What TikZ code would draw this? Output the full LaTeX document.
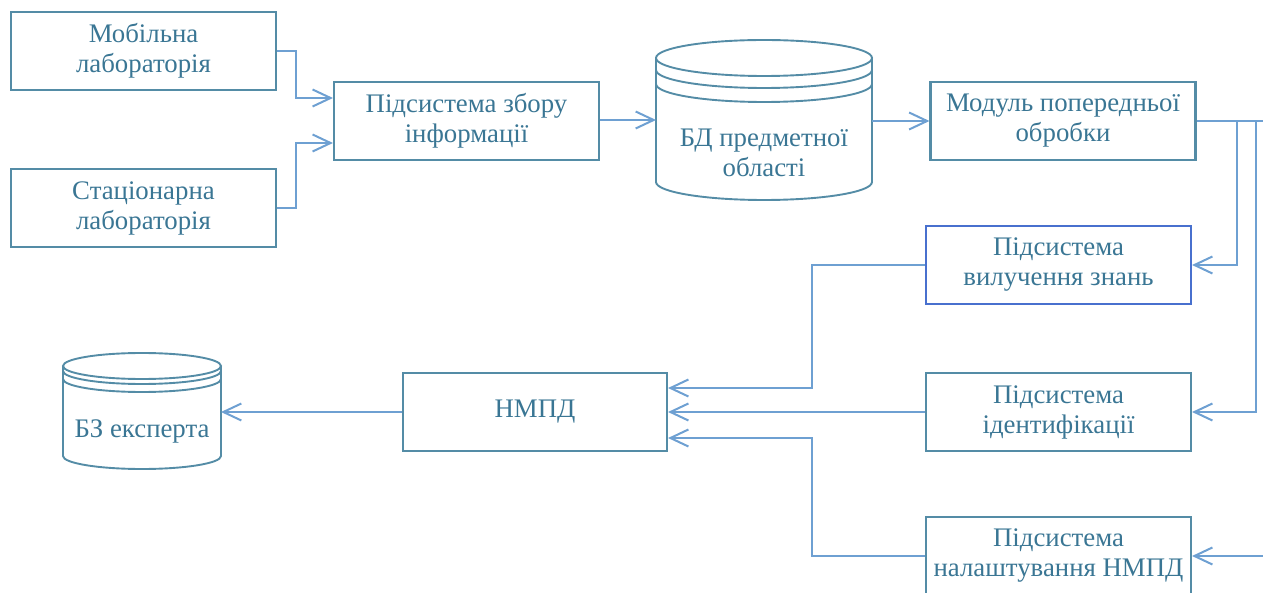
\documentclass[tikz,border=0pt]{standalone}
\usepackage{fontspec}
\setmainfont{Liberation Serif}
\usetikzlibrary{arrows.meta,calc}
\definecolor{txtc}{RGB}{58,118,148}
\definecolor{boxc}{RGB}{84,140,166}
\definecolor{boxb}{RGB}{72,112,206}
\definecolor{linec}{RGB}{110,160,210}
\newcommand\lblfont{\fontsize{26.8}{30}\selectfont}
\begin{document}
\begin{tikzpicture}[x=1pt,y=-1pt,
  box/.style={draw=boxc, line width=2.1pt, minimum width=265pt, minimum height=78pt,
    inner sep=0pt, align=center, text=txtc, font=\lblfont},
  lbl/.style={inner sep=0pt, align=center, text=txtc, font=\lblfont},
  area/.style={inner sep=0pt, outer sep=0pt},
  cyl/.style={draw=boxc, line width=1.9pt},
  link/.style={draw=linec, line width=2pt},
  arr/.style={link, -{Straight Barb[length=18pt,width=17pt]}}]
\useasboundingbox (0,0) rectangle (1263,593);
\clip (0,0) rectangle (1263,593);

% process boxes
\node[box] (mob) at (143.5,51) {Мобільна\\лабораторія};
\node[box] (sta) at (143.5,208) {Стаціонарна\\лабораторія};
\node[box] (zb) at (466.5,121) {Підсистема збору\\інформації};
\node[box] (mod) at (1063,121) {Модуль попередньої\\обробки};
\node[box, draw=boxb] (vil) at (1058.5,265) {Підсистема\\вилучення знань};
\node[box] (id) at (1058.5,412) {Підсистема\\ідентифікації};
\node[box] (nal) at (1058.5,556) {Підсистема\\налаштування НМПД};
\node[box, minimum width=264pt] (nmpd) at (535,412) {НМПД};

% database of the subject area
\node[area, minimum width=216pt, minimum height=160pt] (bd) at (764,120) {};
\draw[cyl] (764,58) ellipse[x radius=108, y radius=18];
\draw[cyl] (656,70) arc[start angle=180, end angle=0, x radius=108, y radius=18];
\draw[cyl] (656,84) arc[start angle=180, end angle=0, x radius=108, y radius=18];
\draw[cyl] (656,58) -- (656,182) arc[start angle=180, end angle=0, x radius=108, y radius=18] -- (872,58);
\node[lbl] (bdt) at (764,153) {БД предметної\\області};

% expert knowledge base
\node[area, minimum width=158pt, minimum height=116pt] (bz) at (142,412) {};
\draw[cyl] (142,366) ellipse[x radius=79, y radius=13];
\draw[cyl] (63,371) arc[start angle=180, end angle=0, x radius=79, y radius=13];
\draw[cyl] (63,379) arc[start angle=180, end angle=0, x radius=79, y radius=13];
\draw[cyl] (63,366) -- (63,456) arc[start angle=180, end angle=0, x radius=79, y radius=13] -- (221,366);
\node[lbl] (bzt) at (142,431) {БЗ експерта};

% branch points on the bus from the preprocessing module
\coordinate (j1) at ($(mod.east)+(40,0)$);
\coordinate (j2) at ($(mod.east)+(59,0)$);
\coordinate (j3) at ($(mod.east)+(75,0)$);

% connectors
\draw[arr] (mob.east) -- ++(19,0) |- ([yshift=23pt]zb.west);
\draw[arr] (sta.east) -- ++(19,0) |- ([yshift=-22pt]zb.west);
\draw[arr] ([yshift=1pt]zb.east) -- ([yshift=1pt]zb.east -| bd.west);
\draw[arr] (bd.east |- mod.west) -- (mod.west);
\draw[link] (mod.east) -- (j3);
\draw[arr] (j1) |- (vil.east);
\draw[arr] (j2) |- (id.east);
\draw[arr] (j3) |- (nal.east);
\draw[arr] (vil.west) -- ++(-113,0) |- ([yshift=24pt]nmpd.east);
\draw[arr] (id.west) -- (nmpd.east);
\draw[arr] (nal.west) -- ++(-113,0) |- ([yshift=-26pt]nmpd.east);
\draw[arr] (nmpd.west) -- (bz.east);
\end{tikzpicture}
\end{document}
